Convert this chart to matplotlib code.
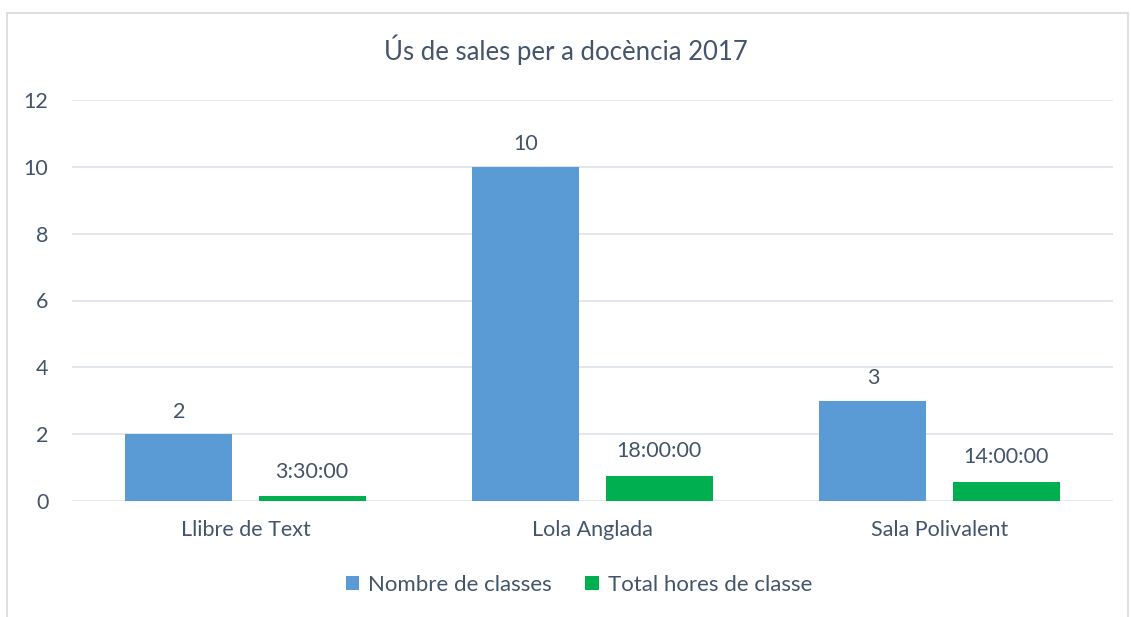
import numpy as np
import matplotlib
matplotlib.use("Agg")
import matplotlib.pyplot as plt
from matplotlib.patches import Rectangle

plt.rcParams["font.family"] = ["Lato", "DejaVu Sans"]

categories = ["Llibre de Text", "Lola Anglada", "Sala Polivalent"]
classes = [2, 10, 3]
hours_labels = ["3:30:00", "18:00:00", "14:00:00"]
hours_days = [3.5 / 24, 18 / 24, 14 / 24]  # Excel stores time as fraction of a day

TXT = "#44546A"
fig = plt.figure(figsize=(11.31, 6.17), dpi=100)
fig.patches.append(Rectangle((7 / 1131, -0.05), 1121 / 1131, 1.05 - 13 / 617,
                             transform=fig.transFigure, fill=False,
                             edgecolor="#D9D9D9", linewidth=1.2))
ax = fig.add_axes([72 / 1131, 1 - 501 / 617, 1041 / 1131, 401 / 617])

x = np.arange(len(categories))
w, off = 0.308, 0.192
b1 = ax.bar(x - off, classes, w, color="#5B9BD5", label="Nombre de classes", zorder=3)
b2 = ax.bar(x + off, hours_days, w, color="#00B050", label="Total hores de classe", zorder=3)

for r, v in zip(b1, classes):
    ax.annotate(str(v), (r.get_x() + r.get_width() / 2, r.get_height()),
                xytext=(0, 9), textcoords="offset points", ha="center", va="bottom",
                fontsize=15.5, color=TXT)
for r, s in zip(b2, hours_labels):
    ax.annotate(s, (r.get_x() + r.get_width() / 2, r.get_height()),
                xytext=(0, 10.5), textcoords="offset points", ha="center", va="bottom",
                fontsize=15.5, color=TXT)

ax.set_xlim(-0.5, 2.5)
ax.set_ylim(0, 12)
ax.set_yticks(range(0, 13, 2))
ax.set_xticks(x)
ax.set_xticklabels(categories)
ax.tick_params(axis="both", length=0, labelsize=15.5, colors=TXT)
ax.tick_params(axis="y", pad=17)
ax.tick_params(axis="x", pad=14)
ax.yaxis.grid(True, color="#DDE2EA", linewidth=1.2, zorder=0)
for s in ax.spines.values():
    s.set_visible(False)

fig.text(0.5, 1 - 50 / 617, "Ús de sales per a docència 2017", ha="center", va="center",
         fontsize=18.5, color=TXT)
fig.legend(handles=[b1, b2], loc="center", bbox_to_anchor=(579 / 1131, 1 - 585 / 617),
           ncol=2, frameon=False, fontsize=16, labelcolor=TXT, handlelength=0.6,
           handleheight=0.6, handletextpad=0.4, columnspacing=1.5)

fig.savefig("out.png", dpi=100)
